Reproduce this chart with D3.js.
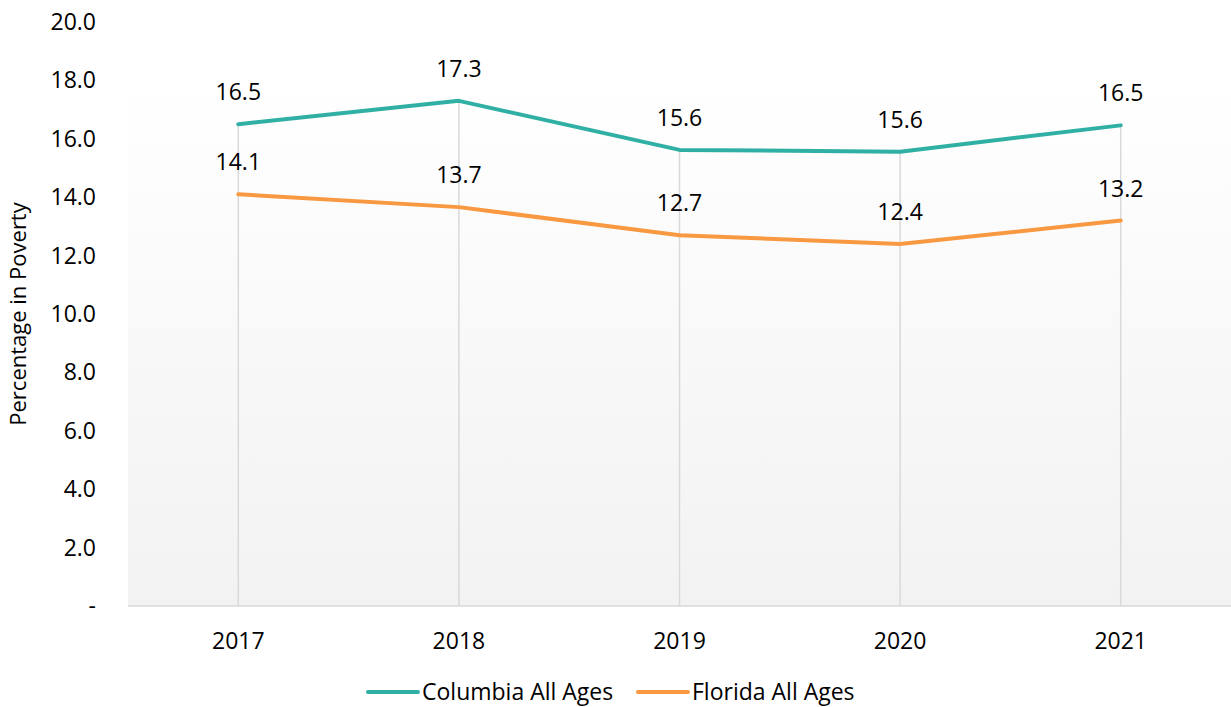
<!DOCTYPE html>
<html>
<head>
<meta charset="utf-8">
<script src="https://cdn.jsdelivr.net/npm/d3@7"></script>
<style>
  body { margin: 0; background: #fff; }
  text { font-family: "Open Sans", "Noto Sans", sans-serif; fill: #000; }
</style>
</head>
<body>
<div id="chart"></div>
<script>
const years = ["2017", "2018", "2019", "2020", "2021"];
const columbia = [16.5, 17.3, 15.62, 15.56, 16.46];
const florida = [14.1, 13.66, 12.7, 12.4, 13.2];
const yTicks = [0, 2, 4, 6, 8, 10, 12, 14, 16, 18, 20];
const seriesNames = ["Columbia All Ages", "Florida All Ages"];
const colors = ["#30b0a4", "#f89841"];

const width = 1231, height = 707;
const m = { left: 128, right: 0, top: 22, bottom: 101 };
const fs = "23px";

const svg = d3.select("#chart")
  .append("svg")
  .attr("width", width)
  .attr("height", height);

const x = d3.scalePoint()
  .domain(years)
  .range([m.left, width - m.right])
  .padding(0.5);

const y = d3.scaleLinear()
  .domain([0, 20])
  .range([height - m.bottom, m.top]);

// plot background gradient
const grad = svg.append("defs").append("linearGradient")
  .attr("id", "bg").attr("x1", 0).attr("y1", 0).attr("x2", 0).attr("y2", 1);
grad.append("stop").attr("offset", "0.1").attr("stop-color", "#ffffff");
grad.append("stop").attr("offset", "1").attr("stop-color", "#f2f2f2");

svg.append("rect")
  .attr("x", m.left).attr("y", y(20))
  .attr("width", width - m.right - m.left)
  .attr("height", y(0) - y(20))
  .attr("fill", "url(#bg)");

// y tick labels
svg.append("g")
  .selectAll("text")
  .data(yTicks)
  .join("text")
  .attr("x", 96)
  .attr("y", d => y(d))
  .attr("dy", "0.35em")
  .attr("text-anchor", "end")
  .style("font-size", fs)
  .text(d => d === 0 ? "-" : d.toFixed(1));

// y axis title
svg.append("text")
  .attr("transform", `translate(26,${(y(0) + y(20)) / 2}) rotate(-90)`)
  .attr("text-anchor", "middle")
  .style("font-size", "22px")
  .text("Percentage in Poverty");

// drop lines
svg.append("g")
  .selectAll("line")
  .data(years)
  .join("line")
  .attr("x1", d => x(d)).attr("x2", d => x(d))
  .attr("y1", (d, i) => y(Math.max(columbia[i], florida[i])))
  .attr("y2", y(0))
  .attr("stroke", "#d9d9d9")
  .attr("stroke-width", 1.5);

// x axis line
svg.append("line")
  .attr("x1", m.left).attr("x2", width - m.right)
  .attr("y1", y(0)).attr("y2", y(0))
  .attr("stroke", "#d9d9d9")
  .attr("stroke-width", 1.5);

// x tick labels
svg.append("g")
  .selectAll("text")
  .data(years)
  .join("text")
  .attr("x", d => x(d))
  .attr("y", y(0) + 43)
  .attr("text-anchor", "middle")
  .style("font-size", fs)
  .text(d => d);

// lines + labels
const line = d3.line()
  .x((d, i) => x(years[i]))
  .y(d => y(d));

[columbia, florida].forEach((vals, s) => {
  svg.append("path")
    .datum(vals)
    .attr("d", line)
    .attr("fill", "none")
    .attr("stroke", colors[s])
    .attr("stroke-width", 4)
    .attr("stroke-linejoin", "round")
    .attr("stroke-linecap", "round");

  svg.append("g")
    .selectAll("text")
    .data(vals)
    .join("text")
    .attr("x", (d, i) => x(years[i]))
    .attr("y", d => y(d) - 24)
    .attr("text-anchor", "middle")
    .style("font-size", fs)
    .text(d => d.toFixed(1));
});

// legend
const legendX = [368, 638];
const legend = svg.append("g");
seriesNames.forEach((name, s) => {
  legend.append("line")
    .attr("x1", legendX[s]).attr("x2", legendX[s] + 50)
    .attr("y1", 692).attr("y2", 692)
    .attr("stroke", colors[s])
    .attr("stroke-width", 4)
    .attr("stroke-linecap", "round");
  legend.append("text")
    .attr("x", legendX[s] + 54)
    .attr("y", 692)
    .attr("dy", "0.35em")
    .style("font-size", fs)
    .text(name);
});
</script>
</body>
</html>
